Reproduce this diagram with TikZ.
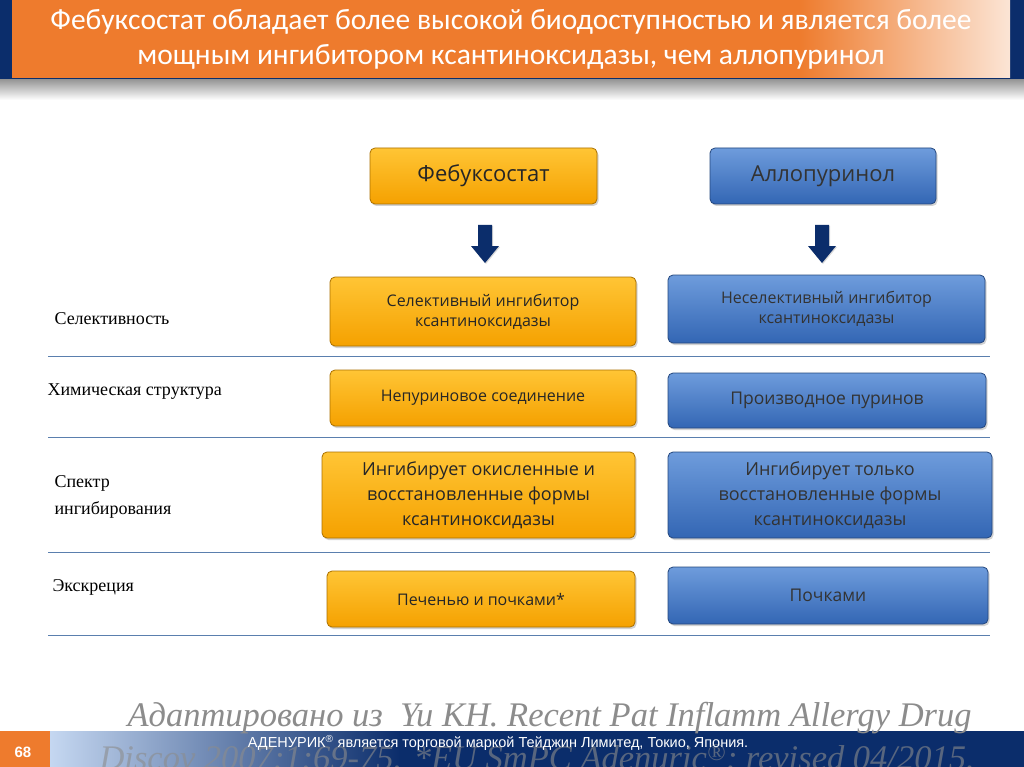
\documentclass[tikz,border=0pt]{standalone}
\usepackage{fontspec}
\setmainfont{Liberation Serif}
\newfontfamily\titlef{Carlito}
\newfontfamily\boxf{Open Sans}
\newfontfamily\footf{Liberation Sans}
\usetikzlibrary{shadows}
\definecolor{ornA}{HTML}{FFC535}
\definecolor{ornB}{HTML}{F5A100}
\definecolor{bluA}{HTML}{6E9CDC}
\definecolor{bluB}{HTML}{3366B4}
\definecolor{navy}{HTML}{0B2D6B}
\definecolor{hdr}{HTML}{EE7B2D}
\definecolor{line}{HTML}{5A7FAE}
\tikzset{
 obox/.style={draw=ornB!70!black,line width=0.8pt,rounded corners=5pt,top color=ornA,bottom color=ornB,drop shadow={opacity=0.35,shadow xshift=1.5pt,shadow yshift=-2pt},align=center,font=\boxf\fontsize{16}{20}\selectfont,text=black!85},
 bbox/.style={draw=bluB!70!black,line width=0.8pt,rounded corners=5pt,top color=bluA,bottom color=bluB,drop shadow={opacity=0.35,shadow xshift=1.5pt,shadow yshift=-2pt},align=center,font=\boxf\fontsize{16}{20}\selectfont,text=black!80},
 lbl/.style={anchor=west,align=left,font=\fontsize{18}{22}\selectfont},
 darr/.style={fill=navy,drop shadow={opacity=0.3,shadow xshift=1pt,shadow yshift=-1pt}},
 sep/.style={line,line width=0.8pt}
}
\newcommand{\downarr}[1]{\fill[darr] ($(#1)+(-7,-19)$) -- ($(#1)+(7,-19)$) -- ($(#1)+(7,2)$) -- ($(#1)+(14,2)$) -- ($(#1)+(0,19)$) -- ($(#1)+(-14,2)$) -- ($(#1)+(-7,2)$) -- cycle;}
\usetikzlibrary{calc}
\begin{document}
\begin{tikzpicture}[x=1pt,y=-1pt]
\useasboundingbox (0,0) rectangle (1024,767);
\fill[white] (0,0) rectangle (1024,767);
% header
\fill[navy] (0,0) rectangle (1024,80);
\shade[top color=black!40,bottom color=white] (0,80) rectangle (1024,100);
\fill[hdr] (12,0) rectangle (800,78);
\shade[left color=hdr,right color=hdr!20] (799,0) rectangle (1010,78);
\node[font=\titlef\fontsize{29.5}{35}\selectfont,text=white,align=center] (title) at (511,39) {Фебуксостат обладает более высокой биодоступностью и является более\\мощным ингибитором ксантиноксидазы, чем аллопуринол};
% heads
\node[obox,minimum width=227pt,minimum height=56pt,font=\boxf\fontsize{22}{26}\selectfont] (hf) at (483.5,176) {Фебуксостат};
\node[bbox,minimum width=226pt,minimum height=56pt,font=\boxf\fontsize{22}{26}\selectfont] (ha) at (823,176) {Аллопуринол};
\coordinate (af) at (485,244);
\coordinate (aa) at (822,244);
\downarr{af}
\downarr{aa}
% rows
\node[obox,minimum width=306pt,minimum height=69pt] (f1) at (483,311.5) {Селективный ингибитор\\ксантиноксидазы};
\node[bbox,minimum width=317pt,minimum height=68pt] (a1) at (826.5,309) {Неселективный ингибитор\\ксантиноксидазы};
\node[obox,minimum width=306pt,minimum height=56pt] (f2) at (483,398) {Непуриновое соединение};
\node[bbox,minimum width=318pt,minimum height=55pt,font=\boxf\fontsize{17.5}{20}\selectfont] (a2) at (827,400.5) {Производное пуринов};
\node[obox,minimum width=313pt,minimum height=86pt,font=\boxf\fontsize{18}{25}\selectfont] (f3) at (478.5,495) {Ингибирует окисленные и\\восстановленные формы\\ксантиноксидазы};
\node[bbox,minimum width=324pt,minimum height=86pt,font=\boxf\fontsize{18}{25}\selectfont] (a3) at (830,495) {Ингибирует только\\восстановленные формы\\ксантиноксидазы};
\node[obox,minimum width=308pt,minimum height=56pt] (f4) at (481,599) {Печенью и почками*};
\node[bbox,minimum width=320pt,minimum height=57pt,font=\boxf\fontsize{17.5}{20}\selectfont] (a4) at (828,595.5) {Почками};
% separators
\foreach \yy/\nm in {356/s1,437/s2,552/s3,635/s4}{
 \coordinate (\nm a) at (48,\yy); \coordinate (\nm b) at (990,\yy);
 \draw[sep] (\nm a) -- (\nm b);}
% labels
\node[lbl] (l1) at (51,319) {Селективность};
\node[lbl] (l2) at (44,392) {Химическая структура};
\node[lbl,font=\fontsize{18}{27}\selectfont] (l3) at (51,497) {Спектр\\ингибирования};
\node[lbl] (l4) at (49,587) {Экскреция};
% footer
\shade[left color=bluA!40,right color=navy] (50,731) rectangle (400,767);
\fill[navy] (399,731) rectangle (1024,767);
\fill[hdr] (0,731) rectangle (50,767);
\node[font=\footf\bfseries\fontsize{15}{17}\selectfont,text=white] (pg) at (23,752) {68};
\node[font=\itshape\fontsize{34.5}{38}\selectfont,text=black!45,anchor=west] (r1) at (124,718) {Адаптировано из\ \ Yu KH. Recent Pat Inflamm Allergy Drug};
\node[font=\itshape\fontsize{34.5}{38}\selectfont,text=black!45,opacity=0.6,anchor=west] (r2) at (96,760) {Discov 2007;1:69-75. *EU SmPC Adenuric\textsuperscript{®}; revised 04/2015.};
\node[font=\footf\fontsize{14.5}{16}\selectfont,text=white] (tm) at (498,743) {АДЕНУРИК\textsuperscript{®} является торговой маркой Тейджин Лимитед, Токио, Япония.};
\end{tikzpicture}
\end{document}
